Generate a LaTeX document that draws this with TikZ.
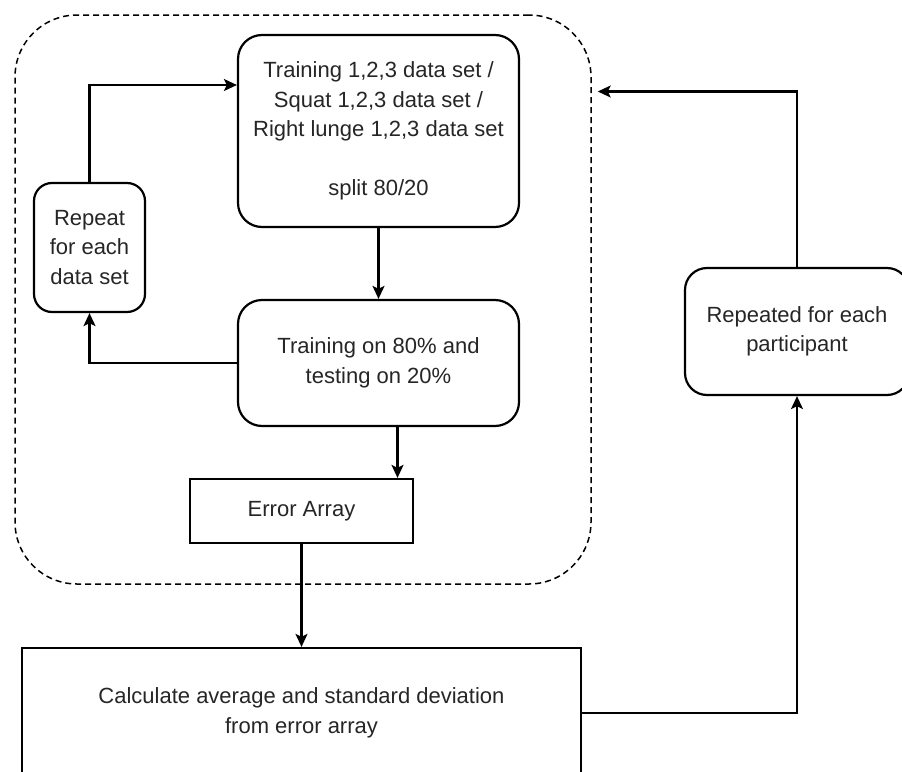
\documentclass[tikz,border=0pt]{standalone}
\usepackage{fontspec}
\setmainfont{Liberation Sans}
\usetikzlibrary{arrows.meta,calc}
\begin{document}
\begin{tikzpicture}[x=1pt,y=-1pt,
  txt/.style={font=\fontsize{22pt}{29.5pt}\selectfont, text=black!85, align=center, inner sep=0pt},
  rbox/.style={txt, draw, line width=2.2pt, rounded corners=#1},
  rbox/.default=24pt,
  sbox/.style={txt, draw, line width=2.2pt},
  arr/.style={line width=2.2pt, -{Stealth[length=13pt,width=12pt,inset=3pt]}},
  grpbox/.style={draw, line width=1.5pt, dash pattern=on 6pt off 4pt, rounded corners=62pt, inner sep=0pt}]
\useasboundingbox (0,0) rectangle (902,771);
\clip (0,0) rectangle (902,771);
\fill[white] (0,0) rectangle (902,771);

\node[grpbox, minimum width=576pt, minimum height=569pt] (grp) at (303,299.5) {};

\node[rbox, minimum width=281pt, minimum height=192pt] (top) at (378.5,131)
  {Training 1,2,3 data set /\\Squat 1,2,3 data set /\\Right lunge 1,2,3 data set\\[29.5pt]split 80/20};
\node[rbox=18pt, minimum width=111pt, minimum height=129pt] (rep) at (89.5,247.5)
  {Repeat\\for each\\data set};
\node[rbox, minimum width=281pt, minimum height=126pt] (mid) at (378.5,363)
  {Training on 80\% and\\testing on 20\%};
\node[sbox, minimum width=223pt, minimum height=64pt] (err) at (301.5,511) {Error Array};
\node[sbox, minimum width=559pt, minimum height=130pt] (calc) at (301.5,713)
  {Calculate average and standard deviation\\from error array};
\node[rbox=22pt, minimum width=224pt, minimum height=127pt] (part) at (797,331.5)
  {Repeated for each\\participant};

\draw[arr] (top.south) -- (mid.north);
\draw[arr] ([xshift=19pt]mid.south) -- ([xshift=19pt]mid.south |- err.north);
\draw[arr] (mid.west) -| (rep.south);
\draw[arr] (rep.north) |- ([yshift=46pt]top.west);
\draw[arr] (err.south) -- (calc.north);
\draw[arr] (calc.east) -| (part.south);
\draw[arr, shorten >=6pt] (part.north) |- ([yshift=208pt]grp.east);
\end{tikzpicture}
\end{document}
